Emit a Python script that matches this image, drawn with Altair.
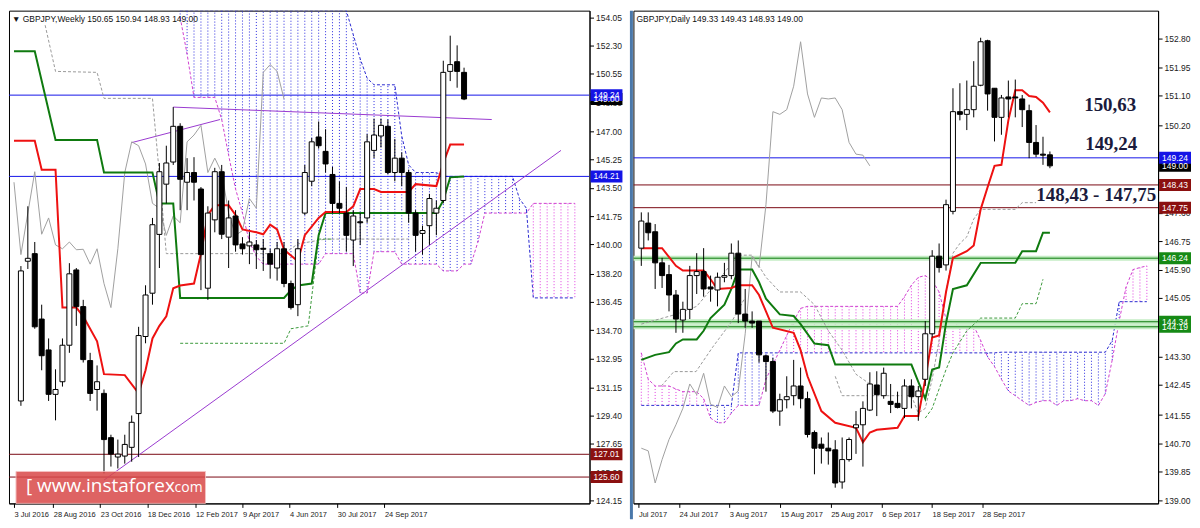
import json
import altair as alt
import pandas as pd

# ---------------- Weekly GBPJPY (left panel) ----------------
w_open = [136.57, 130.31, 138.96, 139.43, 135.38, 133.47, 130.72, 131.50, 133.76, 138.42,
          136.15, 132.81, 131.02, 130.78, 128.04, 126.84, 126.90, 127.44, 129.53, 134.30,
          136.98, 140.62, 143.73, 145.10, 147.31, 143.85, 144.45, 143.43, 137.29, 141.52,
          144.50, 140.45, 141.76, 140.03, 139.91, 139.97, 139.76, 139.43, 138.54, 139.73,
          137.58, 136.27, 141.94, 143.91, 146.65, 145.76, 144.33, 142.54, 141.94, 140.27,
          141.40, 141.64, 145.82, 146.71, 147.31, 144.45, 145.34, 144.45, 141.94, 140.68,
          141.16, 141.94, 142.72, 150.71, 151.31, 150.65]
w_high = [137.47, 138.66, 142.36, 140.15, 136.27, 134.18, 132.27, 134.18, 138.84, 138.54,
          136.57, 133.29, 132.51, 131.02, 128.22, 127.92, 128.22, 129.41, 134.90, 137.47,
          141.64, 145.04, 146.11, 148.50, 147.50, 145.34, 145.40, 143.55, 142.36, 144.74,
          144.92, 142.72, 142.12, 140.45, 140.75, 140.27, 140.33, 139.73, 140.15, 140.15,
          137.76, 140.33, 144.92, 146.59, 147.61, 147.13, 144.80, 143.90, 143.55, 142.12,
          141.94, 146.83, 147.79, 147.79, 147.73, 146.53, 145.70, 144.63, 142.12, 141.16,
          143.13, 142.72, 151.37, 152.92, 152.32, 150.94]
w_low = [129.41, 130.01, 138.48, 134.78, 132.21, 130.31, 129.11, 131.20, 133.29, 134.96,
         132.69, 130.31, 129.71, 125.83, 126.25, 126.13, 126.43, 126.55, 126.84, 133.88,
         136.27, 138.54, 142.54, 144.92, 142.12, 142.12, 142.72, 137.17, 136.57, 140.75,
         140.33, 138.54, 139.55, 139.37, 138.78, 138.48, 138.36, 137.88, 137.76, 137.35,
         135.97, 135.56, 141.82, 143.61, 145.93, 144.45, 141.94, 141.94, 139.55, 138.66,
         139.97, 141.34, 145.34, 146.00, 144.33, 143.91, 143.61, 141.34, 139.55, 139.37,
         139.97, 140.57, 142.54, 150.11, 149.70, 148.93]
w_close = [130.01, 138.36, 139.14, 134.90, 133.11, 130.72, 131.02, 133.76, 138.18, 136.15,
           132.87, 130.78, 131.50, 127.92, 127.02, 127.02, 127.62, 128.99, 134.36, 136.87,
           141.22, 144.50, 145.04, 147.31, 144.03, 144.45, 143.85, 139.37, 141.94, 144.50,
           140.63, 141.64, 139.97, 139.73, 140.15, 139.67, 139.70, 138.78, 139.73, 137.58,
           136.09, 139.73, 144.45, 146.35, 146.11, 144.98, 142.54, 142.24, 140.56, 141.76,
           141.34, 146.35, 146.77, 147.37, 144.45, 145.34, 144.45, 141.94, 140.56, 140.86,
           142.84, 142.24, 150.65, 151.13, 150.71, 149.00]

w_tick_pos = [0.0, 5.67, 12.46, 19.26, 26.2, 33.0, 39.8, 46.7, 53.5]
w_tick_lbl = ["3 Jul 2016", "28 Aug 2016", "23 Oct 2016", "18 Dec 2016", "12 Feb 2017",
              "9 Apr 2017", "4 Jun 2017", "30 Jul 2017", "24 Sep 2017"]
w_price_ticks = [154.05, 152.30, 150.55, 148.80, 147.00, 145.25, 143.50, 141.75, 140.00,
                 138.20, 136.45, 134.70, 132.95, 131.15, 129.40, 127.65, 125.90, 124.15]

w_tenkan_i = [0, 3, 4, 6, 7, 9, 10, 12, 13, 16, 18, 19, 20, 21, 22, 23, 24, 26, 27, 28, 29, 31,
              32, 33, 35, 36, 37, 38, 39, 41, 42, 44, 45, 48, 49, 50, 52, 53, 57, 58, 61, 62, 63, 65]
w_tenkan_p = [146.41, 146.41, 144.62, 144.62, 136.09, 136.09, 135.55, 134.00, 131.97, 131.91,
              130.78, 132.21, 134.18, 134.96, 135.55, 137.29, 137.46, 137.58, 139.43, 141.82,
              142.42, 142.42, 141.82, 140.93, 140.75, 140.63, 141.22, 140.93, 139.67, 138.96,
              140.57, 141.64, 142.00, 142.00, 142.36, 143.43, 143.43, 143.25, 143.25, 143.73,
              143.61, 145.04, 146.18, 146.18]
w_kijun_i = [0, 3, 6, 12, 13, 20, 21, 23, 24, 39, 40, 41, 43, 44, 45, 61, 62, 63, 65]
w_kijun_p = [151.96, 151.96, 146.47, 146.47, 144.45, 144.45, 142.54, 142.54, 136.69, 136.69,
             137.17, 137.46, 137.58, 140.57, 141.94, 141.94, 142.72, 144.15, 144.21]

# Senkou spans (values above the chart top are held at the top edge, where they are cut off)
w_cloud_start = 24
w_span_a = [154.05, 151.78, 149.10, 149.10, 149.10, 149.10, 147.73, 145.52, 143.43, 141.94,
            140.15, 139.26, 138.78, 138.78, 138.78, 138.78, 138.78, 138.78, 138.78, 138.78,
            138.78, 139.43, 139.43, 139.43, 139.43, 139.43, 136.99, 136.99, 139.55, 139.55,
            139.55, 139.55, 138.78, 138.78, 138.78, 138.78, 138.78, 138.78, 138.36, 138.36,
            138.36, 138.78, 138.78, 140.15, 141.94, 141.94, 141.94, 141.94, 141.94, 141.94,
            141.94, 142.54, 142.54, 142.54, 142.54, 142.54, 142.54, 142.54]
w_span_b = [154.47] * 25 + [152.98, 151.49, 150.29, 149.88, 149.88, 149.88, 149.88,
                            146.71, 144.92, 144.45, 144.45, 144.45, 144.45] + [144.21] * 11 + \
           [142.83, 142.24] + [136.69] * 7

w_dash_gray = {"g1": ([4.5, 6, 12, 13, 20, 21, 22, 39, 41, 45, 57],
                      [153.57, 150.71, 150.65, 149.04, 149.04, 144.33, 139.43, 139.43, 140.03,
                       140.33, 140.33])}
w_dash_green = {"g2": ([24, 39, 40, 42.5, 44, 46],
                       [133.88, 133.88, 134.78, 134.96, 140.33, 140.33])}

w_trend = {"t1": ([13, 79], [125.41, 145.82]),
           "t2": ([23, 69], [148.50, 147.73]),
           "t3": ([17, 29.75], [146.30, 147.73])}

w_levels = [149.24, 144.21, 127.01, 125.60]
w_level_col = ["#1515e8", "#1515e8", "#7a0a14", "#7a0a14"]
w_tags = [149.00, 149.24, 144.21, 127.01, 125.60]
w_tag_bg = ["#000000", "#1414e6", "#1414e6", "#8b1010", "#8b1010"]
w_header = "\u25bc GBPJPY,Weekly  150.65 150.94 148.93 149.00"

# ---------------- Daily GBPJPY (right panel) ----------------
d_open = [146.54, 147.29, 147.03, 146.10, 145.75, 145.14, 144.39, 144.71, 145.72, 145.84,
          145.38, 145.29, 145.67, 145.72, 146.39, 144.57, 144.36, 144.36, 143.32, 143.15,
          141.67, 142.01, 142.13, 142.42, 142.04, 141.03, 140.68, 140.56, 140.51, 139.55,
          140.22, 141.17, 141.26, 141.70, 142.45, 142.13, 141.96, 141.90, 141.75, 142.42,
          142.10, 142.62, 143.98, 146.30, 146.04, 147.64, 150.62, 150.54, 150.68, 151.41,
          152.74, 151.32, 150.45, 151.06, 151.06, 151.00, 150.65, 149.70, 149.35, 149.33]
d_high = [147.61, 147.61, 147.26, 146.25, 146.04, 145.29, 144.94, 146.01, 146.39, 146.54,
          145.72, 145.81, 146.10, 146.68, 146.77, 145.32, 144.65, 144.36, 143.35, 143.26,
          142.19, 142.71, 143.20, 142.97, 142.25, 141.09, 140.88, 141.03, 140.80, 140.88,
          140.88, 141.67, 141.96, 142.83, 142.86, 142.97, 142.48, 142.25, 142.62, 142.62,
          142.42, 144.36, 146.48, 146.68, 147.99, 151.32, 151.47, 151.55, 152.13, 152.83,
          152.77, 151.32, 151.12, 151.55, 151.58, 151.12, 150.83, 150.22, 149.87, 149.43]
d_low = [146.01, 146.77, 145.32, 145.35, 144.65, 144.01, 144.01, 144.42, 145.17, 145.09,
         144.94, 144.80, 145.52, 145.61, 144.30, 144.16, 144.16, 143.12, 142.25, 141.61,
         141.23, 141.75, 141.84, 141.75, 140.88, 139.78, 140.10, 140.07, 139.38, 139.35,
         140.16, 140.39, 140.01, 141.67, 141.52, 142.04, 141.61, 141.75, 141.46, 141.75,
         141.38, 142.42, 143.87, 145.81, 145.87, 147.55, 150.36, 150.07, 150.45, 151.38,
         150.65, 149.73, 149.93, 150.45, 150.45, 150.16, 149.23, 149.26, 149.03, 148.93]
d_close = [147.35, 147.00, 146.10, 145.72, 145.14, 144.42, 144.71, 145.72, 145.84, 145.32,
           145.32, 145.67, 145.72, 146.39, 144.57, 144.36, 144.30, 143.35, 143.15, 141.67,
           142.01, 142.10, 142.42, 142.04, 140.97, 140.56, 140.56, 140.48, 139.52, 140.22,
           140.82, 141.26, 141.75, 142.48, 142.16, 142.80, 141.87, 141.78, 142.42, 142.10,
           142.27, 143.98, 146.30, 145.96, 147.84, 150.62, 150.54, 150.68, 151.38, 152.71,
           151.15, 150.45, 151.03, 151.00, 151.03, 150.68, 149.70, 149.35, 149.32, 149.00]

d_tick_pos = [-0.42, 5.44, 12.69, 20.08, 27.34, 34.73, 41.98, 49.23]
d_tick_lbl = ["Jul 2017", "24 Jul 2017", "3 Aug 2017", "15 Aug 2017", "25 Aug 2017",
              "6 Sep 2017", "18 Sep 2017", "28 Sep 2017"]
d_price_ticks = [152.80, 151.95, 151.10, 150.20, 149.35, 148.50, 147.60, 146.75, 145.90,
                 145.05, 144.15, 143.30, 142.45, 141.55, 140.70, 139.85, 139.00]

d_tenkan_i = [0, 3, 5, 6, 9, 10, 11, 13, 14, 16, 17, 18, 19, 22, 23, 24, 26, 28, 31, 32, 33, 34,
              37, 38, 40, 41, 42, 43, 44, 45, 47, 48, 49, 50, 51, 52, 53, 54, 55, 56, 57, 58, 59]
d_tenkan_p = [146.54, 146.54, 146.01, 145.87, 145.87, 145.61, 145.32, 145.35, 145.43, 145.43,
              145.14, 144.65, 144.16, 144.01, 143.49, 142.71, 141.67, 141.32, 141.17, 140.74,
              141.03, 141.11, 141.17, 141.52, 141.52, 142.62, 143.87, 143.93, 145.23, 146.25,
              146.45, 146.62, 147.70, 148.36, 149.00, 149.03, 150.36, 151.26, 151.26, 151.09,
              151.06, 150.89, 150.60]
d_kijun_i = [0, 2, 4, 5, 6, 8, 9, 10, 12, 13, 14, 16, 17, 18, 20, 22, 23, 25, 27, 28, 39, 40,
             41, 42, 43, 44, 45, 47, 49, 54, 55, 57, 58, 59]
d_kijun_p = [143.20, 143.35, 143.43, 143.69, 143.81, 143.81, 144.07, 144.45, 144.85, 145.32,
             145.90, 145.90, 145.52, 145.03, 144.56, 144.51, 144.27, 143.69, 143.64, 143.06,
             143.06, 142.54, 142.04, 142.91, 142.97, 144.30, 145.32, 145.43, 146.10, 146.10,
             146.45, 146.45, 147.00, 147.00]

d_cloud_start = 0
d_span_a = [143.41, 142.62, 142.42, 142.42, 142.42, 142.33, 142.25, 142.25, 142.25, 142.04,
            141.46, 141.32, 141.32, 141.61, 141.84, 141.84, 141.84, 141.84, 142.62, 143.06,
            143.49, 143.93, 144.36, 144.74] + [144.80] * 14 + \
           [145.09, 145.43, 145.67, 145.72, 145.58, 145.23, 144.42, 144.33, 144.22, 144.22,
            144.22, 143.78, 143.29, 143.00, 142.62, 142.27, 142.13, 141.98, 141.84, 141.93,
            141.98, 141.98, 141.84, 141.98, 141.98, 142.04, 141.98, 141.98, 141.84, 142.19,
            143.20, 144.36, 145.38, 145.90, 145.96, 146.01]
d_span_b = [141.84] * 14 + [143.41] * 38 + [143.43] * 16 + [143.78] + [144.94] * 5

d_dash_gray = {
    "r1": ([0, 5, 8, 10, 12, 14, 16, 18, 20, 23, 25, 27, 29, 31, 33],
           [144.27, 144.56, 144.80, 145.29, 145.81, 146.33, 146.33, 145.67, 145.23, 145.23,
            144.85, 144.07, 143.49, 142.77, 142.48]),
    "r2": ([2.9, 4.7, 7.9, 10.3, 13.1, 14.9],
           [142.42, 142.85, 142.85, 143.58, 144.36, 145.03]),
    "r3": ([28, 29, 39, 40, 41, 42, 43, 44, 45, 46, 47, 48, 49, 54, 55, 57],
           [142.71, 142.13, 142.13, 141.61, 141.75, 142.62, 143.78, 145.23, 146.39, 146.68,
            146.88, 147.41, 147.70, 147.70, 147.90, 147.90]),
}
d_dash_green = {
    "g1": ([41, 42, 43, 44, 45, 47, 49, 54, 55, 57, 58],
           [141.46, 141.75, 142.33, 142.91, 143.41, 144.07, 144.45, 144.45, 144.88, 144.88, 145.61]),
}

d_levels = [149.24, 148.43, 147.75, 146.24, 144.34, 144.19]
d_level_col = ["#1515e8", "#7a0a14", "#7a0a14", "#0b7a0b", "#0b7a0b", "#0b7a0b"]
d_tags = [149.00, 149.24, 148.43, 147.75, 146.24, 144.19, 144.34]
d_tag_bg = ["#000000", "#1414e6", "#8b1010", "#8b1010", "#168a16", "#168a16", "#168a16"]
d_header = "GBPJPY,Daily  149.33 149.43 148.93 149.00"
d_notes = [("150,63", 150.83, 478), ("149,24", 149.64, 479), ("148,43 - 147,75", 148.13, 464)]

# ---------------- layout constants ----------------
H = 494
WL, WR = 582, 526
XL, YL = [0.0, 82.4], [123.97, 154.47]
XR, YR = [-0.42, 73.9], [138.91, 153.64]
FONT = "Liberation Sans"
TAG_W = 32
TAG_SHAPE = "M-1,-0.375L1,-0.375L1,0.375L-1,0.375Z"
one = pd.DataFrame({"a": [1]})


def build_panel(o, h, l, c, tick_pos, tick_lbl, price_ticks, ten_i, ten_p, kij_i, kij_p,
                cloud_start, span_a, span_b, dash_gray, dash_green, trends, levels, level_col,
                tags, tag_bg, header, W, XD, YD, green_glow=False):
    xaxis = alt.Axis(values=tick_pos,
                     labelExpr=f"{json.dumps(tick_lbl)}[indexof({json.dumps(tick_pos)}, datum.value)]",
                     labelAlign="left", labelPadding=3, tickSize=4, title=None, grid=False,
                     labelOverlap=False, labelFlush=False, labelFont=FONT, labelFontSize=7.5,
                     labelColor="#222")
    yaxis = alt.Axis(orient="right", values=price_ticks, format=".2f", tickSize=4, labelPadding=2,
                     title=None, grid=False, labelFont=FONT, labelFontSize=8.5, labelColor="#222",
                     labelOverlap=False)
    xs = alt.Scale(domain=XD, nice=False, zero=False)
    ys = alt.Scale(domain=YD, nice=False, zero=False)

    def X(f="i"):
        return alt.X(f"{f}:Q", scale=xs, axis=xaxis)

    def Y(f="p"):
        return alt.Y(f"{f}:Q", scale=ys, axis=yaxis)

    layers = []
    # cloud drawn as vertical dotted lines between the spans
    cl = pd.DataFrame({"i": list(range(cloud_start, cloud_start + len(span_a))),
                       "a": span_a, "b": span_b})
    cl = cl[(cl["i"] >= XD[0]) & (cl["i"] <= XD[1])]
    cl["col"] = ["#e03ce0" if a >= b else "#2a2ae0" for a, b in zip(cl["a"], cl["b"])]
    layers.append(alt.Chart(cl).mark_rule(strokeDash=[1, 2], strokeWidth=1, clip=True).encode(
        x=X(), y=Y("a"), y2="b:Q", color=alt.Color("col:N", scale=None)))
    layers.append(alt.Chart(cl).mark_line(strokeDash=[3, 2], strokeWidth=1, color="#d040d0",
                                          clip=True).encode(x=X(), y=Y("a")))
    layers.append(alt.Chart(cl).mark_line(strokeDash=[3, 2], strokeWidth=1, color="#2a2ad0",
                                          clip=True).encode(x=X(), y=Y("b")))
    # horizontal levels
    lv = pd.DataFrame({"p": levels, "col": level_col})
    if green_glow:
        gl = lv[lv["col"] == "#0b7a0b"]
        layers.append(alt.Chart(gl).mark_rule(strokeWidth=5, color="#c4ecc4", clip=True).encode(y=Y()))
    layers.append(alt.Chart(lv).mark_rule(strokeWidth=1, clip=True).encode(
        y=Y(), stroke=alt.Stroke("col:N", scale=None)))
    # trend lines
    if trends:
        rows = []
        for k, (xi, pi) in trends.items():
            rows += [{"k": k, "i": a, "p": b} for a, b in zip(xi, pi)]
        layers.append(alt.Chart(pd.DataFrame(rows)).mark_line(color="#9a3ad0", strokeWidth=1,
                                                              clip=True).encode(
            x=X(), y=Y(), detail="k:N"))
    # dashed auxiliary lines
    for dd, col in ((dash_gray, "#9a9a9a"), (dash_green, "#3c9a3c")):
        rows = []
        for k, (xi, pi) in dd.items():
            rows += [{"k": k, "i": a, "p": b} for a, b in zip(xi, pi)]
        if rows:
            layers.append(alt.Chart(pd.DataFrame(rows)).mark_line(
                color=col, strokeWidth=1, strokeDash=[3, 2], clip=True).encode(
                x=X(), y=Y(), detail="k:N"))
    # chikou span (close shifted back 26 bars)
    ch = pd.DataFrame({"i": list(range(len(c) - 26)), "p": c[26:]})
    layers.append(alt.Chart(ch).mark_line(color="#a0a0a0", strokeWidth=1, clip=True).encode(x=X(), y=Y()))
    # kijun / tenkan
    layers.append(alt.Chart(pd.DataFrame({"i": kij_i, "p": kij_p})).mark_line(
        color="#0f7a0f", strokeWidth=2, clip=True).encode(x=X(), y=Y()))
    layers.append(alt.Chart(pd.DataFrame({"i": ten_i, "p": ten_p})).mark_line(
        color="#ee1111", strokeWidth=2, clip=True).encode(x=X(), y=Y()))
    # candles (only those whose body lies inside the plot)
    cd = pd.DataFrame({"i": list(range(len(o))), "o": o, "h": h, "l": l, "c": c})
    cd = cd[cd["i"] >= XD[0] + 0.4]
    cd["fill"] = ["#ffffff" if cc >= oo else "#000000" for oo, cc in zip(cd["o"], cd["c"])]
    layers.append(alt.Chart(cd).mark_rule(color="black", strokeWidth=1, clip=True).encode(
        x=X(), y=Y("l"), y2="h:Q"))
    layers.append(alt.Chart(cd).mark_bar(size=5, stroke="black", strokeWidth=1, clip=True).encode(
        x=X(), y=Y("o"), y2="c:Q", fill=alt.Fill("fill:N", scale=None)))
    # header
    layers.append(alt.Chart(one).mark_text(align="left", baseline="middle", font=FONT, fontSize=8.5,
                                           color="#111").encode(
        x=alt.value(3), y=alt.value(8), text=alt.value(header)))
    # price tags on the axis
    tg = pd.DataFrame({"p": tags, "bg": tag_bg, "t": [f"{v:.2f}" for v in tags]})
    layers.append(alt.Chart(tg).mark_point(shape=TAG_SHAPE, size=TAG_W * TAG_W, filled=True,
                                           opacity=1, strokeWidth=0).encode(
        x=alt.value(W + 1 + TAG_W / 2), y=Y(), fill=alt.Fill("bg:N", scale=None)))
    layers.append(alt.Chart(tg).mark_text(font=FONT, fontSize=8.5, color="white").encode(
        x=alt.value(W + 1 + TAG_W / 2), y=Y(), text="t:N"))
    return layers, Y


left_layers, YLf = build_panel(w_open, w_high, w_low, w_close, w_tick_pos, w_tick_lbl, w_price_ticks,
                               w_tenkan_i, w_tenkan_p, w_kijun_i, w_kijun_p, w_cloud_start,
                               w_span_a, w_span_b, w_dash_gray, w_dash_green, w_trend, w_levels,
                               w_level_col, w_tags, w_tag_bg, w_header, WL, XL, YL)
# watermark
left_layers.append(alt.Chart(one).mark_rect(color="#d94848", opacity=0.85, stroke="#f3b8b8",
                                            strokeWidth=1).encode(
    x=alt.value(7), x2=alt.value(197), y=alt.value(462), y2=alt.value(494)))
left_layers.append(alt.Chart(one).mark_text(align="left", baseline="middle", font="Open Sans",
                                            fontSize=19, color="white").encode(
    x=alt.value(17), y=alt.value(477), text=alt.value("[  www.instaforex")))
left_layers.append(alt.Chart(one).mark_text(align="left", baseline="middle", font="Open Sans",
                                            fontSize=14, color="white").encode(
    x=alt.value(166), y=alt.value(479), text=alt.value("com ]")))

right_layers, YRf = build_panel(d_open, d_high, d_low, d_close, d_tick_pos, d_tick_lbl, d_price_ticks,
                                d_tenkan_i, d_tenkan_p, d_kijun_i, d_kijun_p, d_cloud_start,
                                d_span_a, d_span_b, d_dash_gray, d_dash_green, None, d_levels,
                                d_level_col, d_tags, d_tag_bg, d_header, WR, XR, YR, green_glow=True)
for txt, p, xp in d_notes:
    right_layers.append(alt.Chart(pd.DataFrame({"p": [p], "t": [txt]})).mark_text(
        font="Liberation Serif", fontWeight="bold", fontSize=19, color="#1b1b3c").encode(
        x=alt.value(xp), y=YRf(), text="t:N"))
right_layers.append(alt.Chart(one).mark_rule(color="#4a78aa", strokeWidth=3).encode(
    x=alt.value(-2), y=alt.value(0), y2=alt.value(H + 16)))

left = alt.layer(*left_layers).properties(width=WL, height=H)
right = alt.layer(*right_layers).properties(width=WR, height=H)

chart = alt.hconcat(left, right, spacing=6).configure_view(
    stroke="#000", strokeWidth=1).configure_axis(domainColor="#000", tickColor="#000").properties(
    background="white", padding=0)

chart.save("out.html", embed_options={"renderer": "svg", "actions": False})
